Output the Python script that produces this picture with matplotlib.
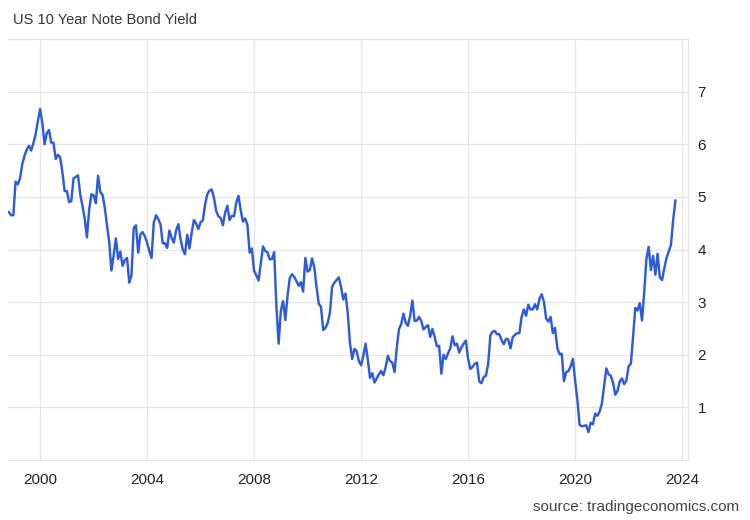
import numpy as np
import pandas as pd
import matplotlib
matplotlib.use("Agg")
import matplotlib.pyplot as plt

plt.rcParams['font.family'] = ['Liberation Sans', 'DejaVu Sans']

title = "US 10 Year Note Bond Yield"
source = "source: tradingeconomics.com"
start_month = "1998-11-01"

# Monthly yields (%), Nov 1998 - Oct 2023
yields = [
    4.71, 4.65,
    4.65, 5.29, 5.24, 5.35, 5.62, 5.78, 5.90, 5.97, 5.88, 6.02, 6.19, 6.44,   # 1999
    6.67, 6.41, 6.00, 6.21, 6.27, 6.03, 6.03, 5.72, 5.80, 5.75, 5.47, 5.11,   # 2000
    5.11, 4.90, 4.92, 5.35, 5.38, 5.41, 5.05, 4.83, 4.59, 4.23, 4.75, 5.05,   # 2001
    5.03, 4.88, 5.40, 5.09, 5.04, 4.80, 4.46, 4.14, 3.60, 3.89, 4.21, 3.82,   # 2002
    3.96, 3.69, 3.80, 3.84, 3.37, 3.51, 4.41, 4.46, 3.94, 4.29, 4.33, 4.25,   # 2003
    4.13, 3.97, 3.84, 4.51, 4.65, 4.58, 4.48, 4.12, 4.12, 4.03, 4.36, 4.22,   # 2004
    4.13, 4.36, 4.48, 4.20, 4.00, 3.91, 4.28, 4.02, 4.32, 4.56, 4.49, 4.39,   # 2005
    4.52, 4.55, 4.85, 5.05, 5.12, 5.14, 4.98, 4.73, 4.63, 4.60, 4.46, 4.70,   # 2006
    4.83, 4.56, 4.64, 4.63, 4.89, 5.02, 4.74, 4.53, 4.59, 4.47, 3.94, 4.02,   # 2007
    3.59, 3.51, 3.41, 3.73, 4.06, 3.97, 3.95, 3.81, 3.82, 3.95, 2.92, 2.21,   # 2008
    2.84, 3.02, 2.66, 3.12, 3.46, 3.53, 3.48, 3.40, 3.31, 3.38, 3.20, 3.84,   # 2009
    3.58, 3.61, 3.83, 3.66, 3.29, 2.97, 2.91, 2.47, 2.51, 2.60, 2.80, 3.29,   # 2010
    3.37, 3.42, 3.47, 3.29, 3.05, 3.16, 2.80, 2.22, 1.92, 2.11, 2.07, 1.88,   # 2011
    1.80, 1.98, 2.21, 1.91, 1.56, 1.65, 1.47, 1.55, 1.63, 1.69, 1.61, 1.76,   # 2012
    1.98, 1.88, 1.85, 1.67, 2.13, 2.49, 2.58, 2.78, 2.61, 2.55, 2.74, 3.03,   # 2013
    2.64, 2.65, 2.72, 2.64, 2.48, 2.53, 2.56, 2.34, 2.49, 2.34, 2.16, 2.17,   # 2014
    1.64, 2.00, 1.92, 2.03, 2.12, 2.35, 2.18, 2.21, 2.04, 2.14, 2.21, 2.27,   # 2015
    1.92, 1.73, 1.77, 1.83, 1.85, 1.49, 1.46, 1.58, 1.60, 1.83, 2.37, 2.44,   # 2016
    2.45, 2.39, 2.39, 2.28, 2.20, 2.30, 2.29, 2.12, 2.33, 2.38, 2.41, 2.41,   # 2017
    2.72, 2.86, 2.74, 2.95, 2.86, 2.86, 2.96, 2.86, 3.06, 3.15, 3.01, 2.69,   # 2018
    2.63, 2.72, 2.41, 2.51, 2.13, 2.01, 2.02, 1.50, 1.67, 1.69, 1.78, 1.92,   # 2019
    1.51, 1.15, 0.67, 0.64, 0.65, 0.66, 0.53, 0.71, 0.68, 0.88, 0.84, 0.92,   # 2020
    1.07, 1.41, 1.74, 1.63, 1.60, 1.47, 1.24, 1.31, 1.49, 1.55, 1.44, 1.51,   # 2021
    1.78, 1.83, 2.34, 2.89, 2.84, 2.98, 2.65, 3.19, 3.83, 4.05, 3.61, 3.88,   # 2022
    3.52, 3.92, 3.47, 3.42, 3.64, 3.84, 3.96, 4.09, 4.57, 4.93,               # 2023
]

x_ticks = [2000, 2004, 2008, 2012, 2016, 2020, 2024]
y_ticks = [1, 2, 3, 4, 5, 6, 7]

dates = pd.date_range(start_month, periods=len(yields), freq="MS")
t = dates.year + (dates.month - 1) / 12.0

fig = plt.figure(figsize=(7.5, 5.2), dpi=100)
ax = fig.add_axes([8/750, 1 - 460/520, (688 - 8)/750, (460 - 39)/520])

grid_c = "#e6e6e6"
ax.plot(t, yields, color="#2e5cd6", lw=1.75, solid_joinstyle="round")

ax.set_xlim(1998.8, 2024.22)
ax.set_ylim(0, 8)
ax.set_xticks(x_ticks)
ax.set_xticklabels([str(v) for v in x_ticks])
ax.set_yticks(y_ticks)
ax.set_yticklabels([str(v) for v in y_ticks])
ax.yaxis.tick_right()
ax.tick_params(axis="both", length=0, labelsize=11, colors="#222222")
ax.tick_params(axis="y", pad=7)
ax.tick_params(axis="x", pad=9)

for v in x_ticks:
    ax.axvline(v, color=grid_c, lw=0.9, zorder=0)
for v in range(1, 9):
    ax.axhline(v, color=grid_c, lw=0.9, zorder=0)

for s in ["left"]:
    ax.spines[s].set_visible(False)
for s in ["top", "bottom", "right"]:
    ax.spines[s].set_color(grid_c)
    ax.spines[s].set_linewidth(0.9)

fig.text(13/750, 1 - 20/520, title, fontsize=10.5, color="#333333", va="center", ha="left")
fig.text(739/750, 1 - 507/520, source, fontsize=11, color="#444444", va="center", ha="right")

fig.savefig("out.png", dpi=100)
